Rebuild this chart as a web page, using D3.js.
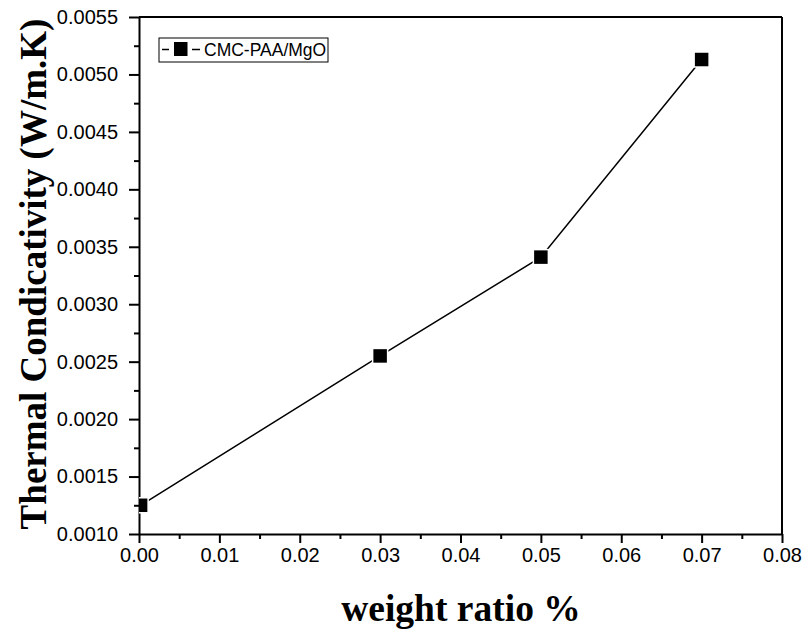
<!DOCTYPE html>
<html>
<head>
<meta charset="utf-8">
<script src="https://cdn.jsdelivr.net/npm/d3@7"></script>
<style>
  html, body { margin: 0; padding: 0; background: #fff; }
  svg { display: block; }
</style>
</head>
<body>
<svg id="chart" width="803" height="633"></svg>
<script>
// Thermal conductivity of CMC-PAA/MgO versus MgO weight ratio
const weightRatio = [0.0002, 0.03, 0.05, 0.07];
const conductivity = [0.00125, 0.00255, 0.00341, 0.00513];
const seriesName = "CMC-PAA/MgO";
const xTicks = [0, 0.01, 0.02, 0.03, 0.04, 0.05, 0.06, 0.07, 0.08];
const yTicks = [0.0010, 0.0015, 0.0020, 0.0025, 0.0030, 0.0035, 0.0040, 0.0045, 0.0050, 0.0055];

const svg = d3.select("#chart");
const m = { left: 139, top: 17, right: 782, bottom: 534 };

const x = d3.scaleLinear().domain([0, 0.08]).range([m.left, m.right]);
const y = d3.scaleLinear().domain([0.0010, 0.0055]).range([m.bottom, m.top]);

svg.append("defs").append("clipPath").attr("id", "plotClip")
  .append("rect").attr("x", m.left).attr("y", m.top)
  .attr("width", m.right - m.left).attr("height", m.bottom - m.top);

const tickFont = "Arial, 'Liberation Sans', sans-serif";

// minor ticks halfway between majors
const xMinor = d3.range(0.005, 0.08, 0.01);
const yMinor = d3.range(0.00125, 0.0055, 0.0005);

const xAxis = svg.append("g").attr("transform", `translate(0,${m.bottom})`)
  .call(d3.axisBottom(x).tickValues(xTicks).tickFormat(d3.format(".2f")).tickSize(9).tickSizeOuter(0));
xAxis.select(".domain").attr("stroke-width", 2);
xAxis.selectAll(".tick line").attr("stroke-width", 2);
xAxis.selectAll(".tick text").attr("font-family", tickFont).attr("font-size", 20)
  .attr("fill", "#000").attr("y", 14).attr("dy", "0.71em");
svg.append("g").attr("transform", `translate(0,${m.bottom})`)
  .call(d3.axisBottom(x).tickValues(xMinor).tickFormat("").tickSize(5).tickSizeOuter(0))
  .call(g => g.select(".domain").remove())
  .selectAll("line").attr("stroke-width", 2);

const yAxis = svg.append("g").attr("transform", `translate(${m.left},0)`)
  .call(d3.axisLeft(y).tickValues(yTicks).tickFormat(d3.format(".4f")).tickSize(10).tickSizeOuter(0));
yAxis.select(".domain").attr("stroke-width", 2);
yAxis.selectAll(".tick line").attr("stroke-width", 2);
yAxis.selectAll(".tick text").attr("font-family", tickFont).attr("font-size", 20)
  .attr("fill", "#000").attr("x", -21);
svg.append("g").attr("transform", `translate(${m.left},0)`)
  .call(d3.axisLeft(y).tickValues(yMinor).tickFormat("").tickSize(5).tickSizeOuter(0))
  .call(g => g.select(".domain").remove())
  .selectAll("line").attr("stroke-width", 2);

// top and right frame lines
svg.append("line").attr("x1", m.left).attr("x2", m.right).attr("y1", m.top).attr("y2", m.top)
  .attr("stroke", "#000").attr("stroke-width", 2);
svg.append("line").attr("x1", m.right).attr("x2", m.right).attr("y1", m.top).attr("y2", m.bottom)
  .attr("stroke", "#000").attr("stroke-width", 2);

const pts = weightRatio.map((d, i) => [d, conductivity[i]]);
const plot = svg.append("g").attr("clip-path", "url(#plotClip)");

plot.append("path").datum(pts)
  .attr("fill", "none").attr("stroke", "#000").attr("stroke-width", 1.5)
  .attr("d", d3.line().x(d => x(d[0])).y(d => y(d[1])));

const ms = 15;
plot.selectAll("rect.pt").data(pts).join("rect").attr("class", "pt")
  .attr("x", d => x(d[0]) - ms / 2).attr("y", d => y(d[1]) - ms / 2)
  .attr("width", ms).attr("height", ms)
  .attr("fill", "#000").attr("stroke", "#fff").attr("stroke-width", 1.5);

// legend
const lg = svg.append("g");
lg.append("rect").attr("x", 159).attr("y", 38).attr("width", 169).attr("height", 24)
  .attr("fill", "#fff").attr("stroke", "#000").attr("stroke-width", 1);
lg.append("line").attr("x1", 162).attr("x2", 169).attr("y1", 49.5).attr("y2", 49.5)
  .attr("stroke", "#000").attr("stroke-width", 1.5);
lg.append("line").attr("x1", 192).attr("x2", 200).attr("y1", 49.5).attr("y2", 49.5)
  .attr("stroke", "#000").attr("stroke-width", 1.5);
lg.append("rect").attr("x", 174).attr("y", 42).attr("width", 13.5).attr("height", 14).attr("fill", "#000");
lg.append("text").attr("x", 204).attr("y", 56).attr("font-family", tickFont).attr("font-size", 17.5)
  .attr("fill", "#000").text(seriesName);

// axis titles
const titleFont = "'Times New Roman', 'Liberation Serif', serif";
svg.append("text").attr("transform", "translate(46,274) rotate(-90)")
  .attr("text-anchor", "middle").attr("font-family", titleFont).attr("font-weight", "bold")
  .attr("font-size", 37).attr("fill", "#000").text("Thermal Condicativity (W/m.K)");
svg.append("text").attr("x", 461).attr("y", 621)
  .attr("text-anchor", "middle").attr("font-family", titleFont).attr("font-weight", "bold")
  .attr("font-size", 37.5).attr("fill", "#000").text("weight ratio %");
</script>
</body>
</html>
